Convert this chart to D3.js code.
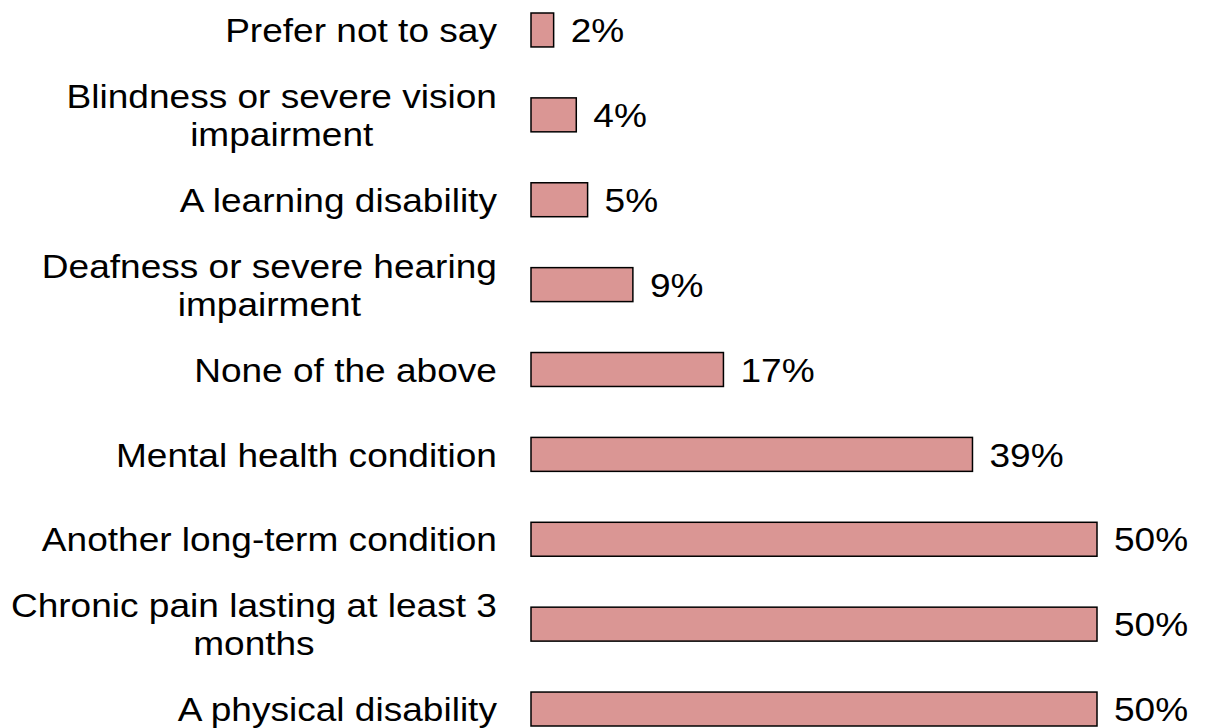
<!DOCTYPE html>
<html>
<head>
<meta charset="utf-8">
<script src="https://cdn.jsdelivr.net/npm/d3@7"></script>
<style>
  html, body { margin: 0; padding: 0; background: #ffffff; }
  svg { display: block; }
  text { font-family: "Liberation Sans", Arial, sans-serif; fill: #000; }
</style>
</head>
<body>
<svg id="chart" width="1207" height="728"></svg>
<script>
// Category labels (line breaks as they wrap on the chart)
const categories = [
  ["Prefer not to say"],
  ["Blindness or severe vision", "impairment"],
  ["A learning disability"],
  ["Deafness or severe hearing", "impairment"],
  ["None of the above"],
  ["Mental health condition"],
  ["Another long-term condition"],
  ["Chronic pain lasting at least 3", "months"],
  ["A physical disability"]
];
// Share of respondents (%)
const values = [2, 4, 5, 9, 17, 39, 50, 50, 50];
const valueLabels = ["2%", "4%", "5%", "9%", "17%", "39%", "50%", "50%", "50%"];

const fontSize = 34;
const stretch = 1.09;      // wide glyph proportions
const lineGap = 38;
const labelRight = 497;

const svg = d3.select("#chart");
const idx = d3.range(categories.length);

const x = d3.scaleLinear().domain([0, 50]).range([531, 1097]);
const y = d3.scaleBand().domain(idx).range([13, 726]).paddingInner(0.6).paddingOuter(0);

// Bars
svg.append("g")
  .selectAll("rect")
  .data(idx)
  .join("rect")
  .attr("x", x(0))
  .attr("y", i => y(i))
  .attr("width", i => x(values[i]) - x(0))
  .attr("height", y.bandwidth())
  .attr("fill", "#DA9694")
  .attr("stroke", "#000")
  .attr("stroke-width", 1.5);

// Value labels
svg.append("g")
  .selectAll("text")
  .data(idx)
  .join("text")
  .attr("transform", i => `translate(${x(values[i]) + 17},${y(i) + y.bandwidth() / 2 + fontSize * 0.358}) scale(${stretch},1)`)
  .style("font-size", fontSize + "px")
  .text(i => valueLabels[i]);

// Category labels: block right-aligned, lines centred within the block
const labelG = svg.append("g");
idx.forEach(i => {
  const lines = categories[i];
  const cy = y(i) + y.bandwidth() / 2;
  const g = labelG.append("g");
  const texts = lines.map((ln, k) => {
    const base = cy + (k - (lines.length - 1) / 2) * lineGap + fontSize * 0.358;
    return g.append("text")
      .style("font-size", fontSize + "px")
      .attr("text-anchor", "middle")
      .attr("data-base", base)
      .text(ln);
  });
  const maxW = d3.max(texts, t => t.node().getComputedTextLength()) * stretch;
  const cx = labelRight - maxW / 2;
  texts.forEach(t => {
    t.attr("transform", `translate(${cx},${+t.attr("data-base")}) scale(${stretch},1)`);
    t.attr("data-base", null);
  });
});
</script>
</body>
</html>
